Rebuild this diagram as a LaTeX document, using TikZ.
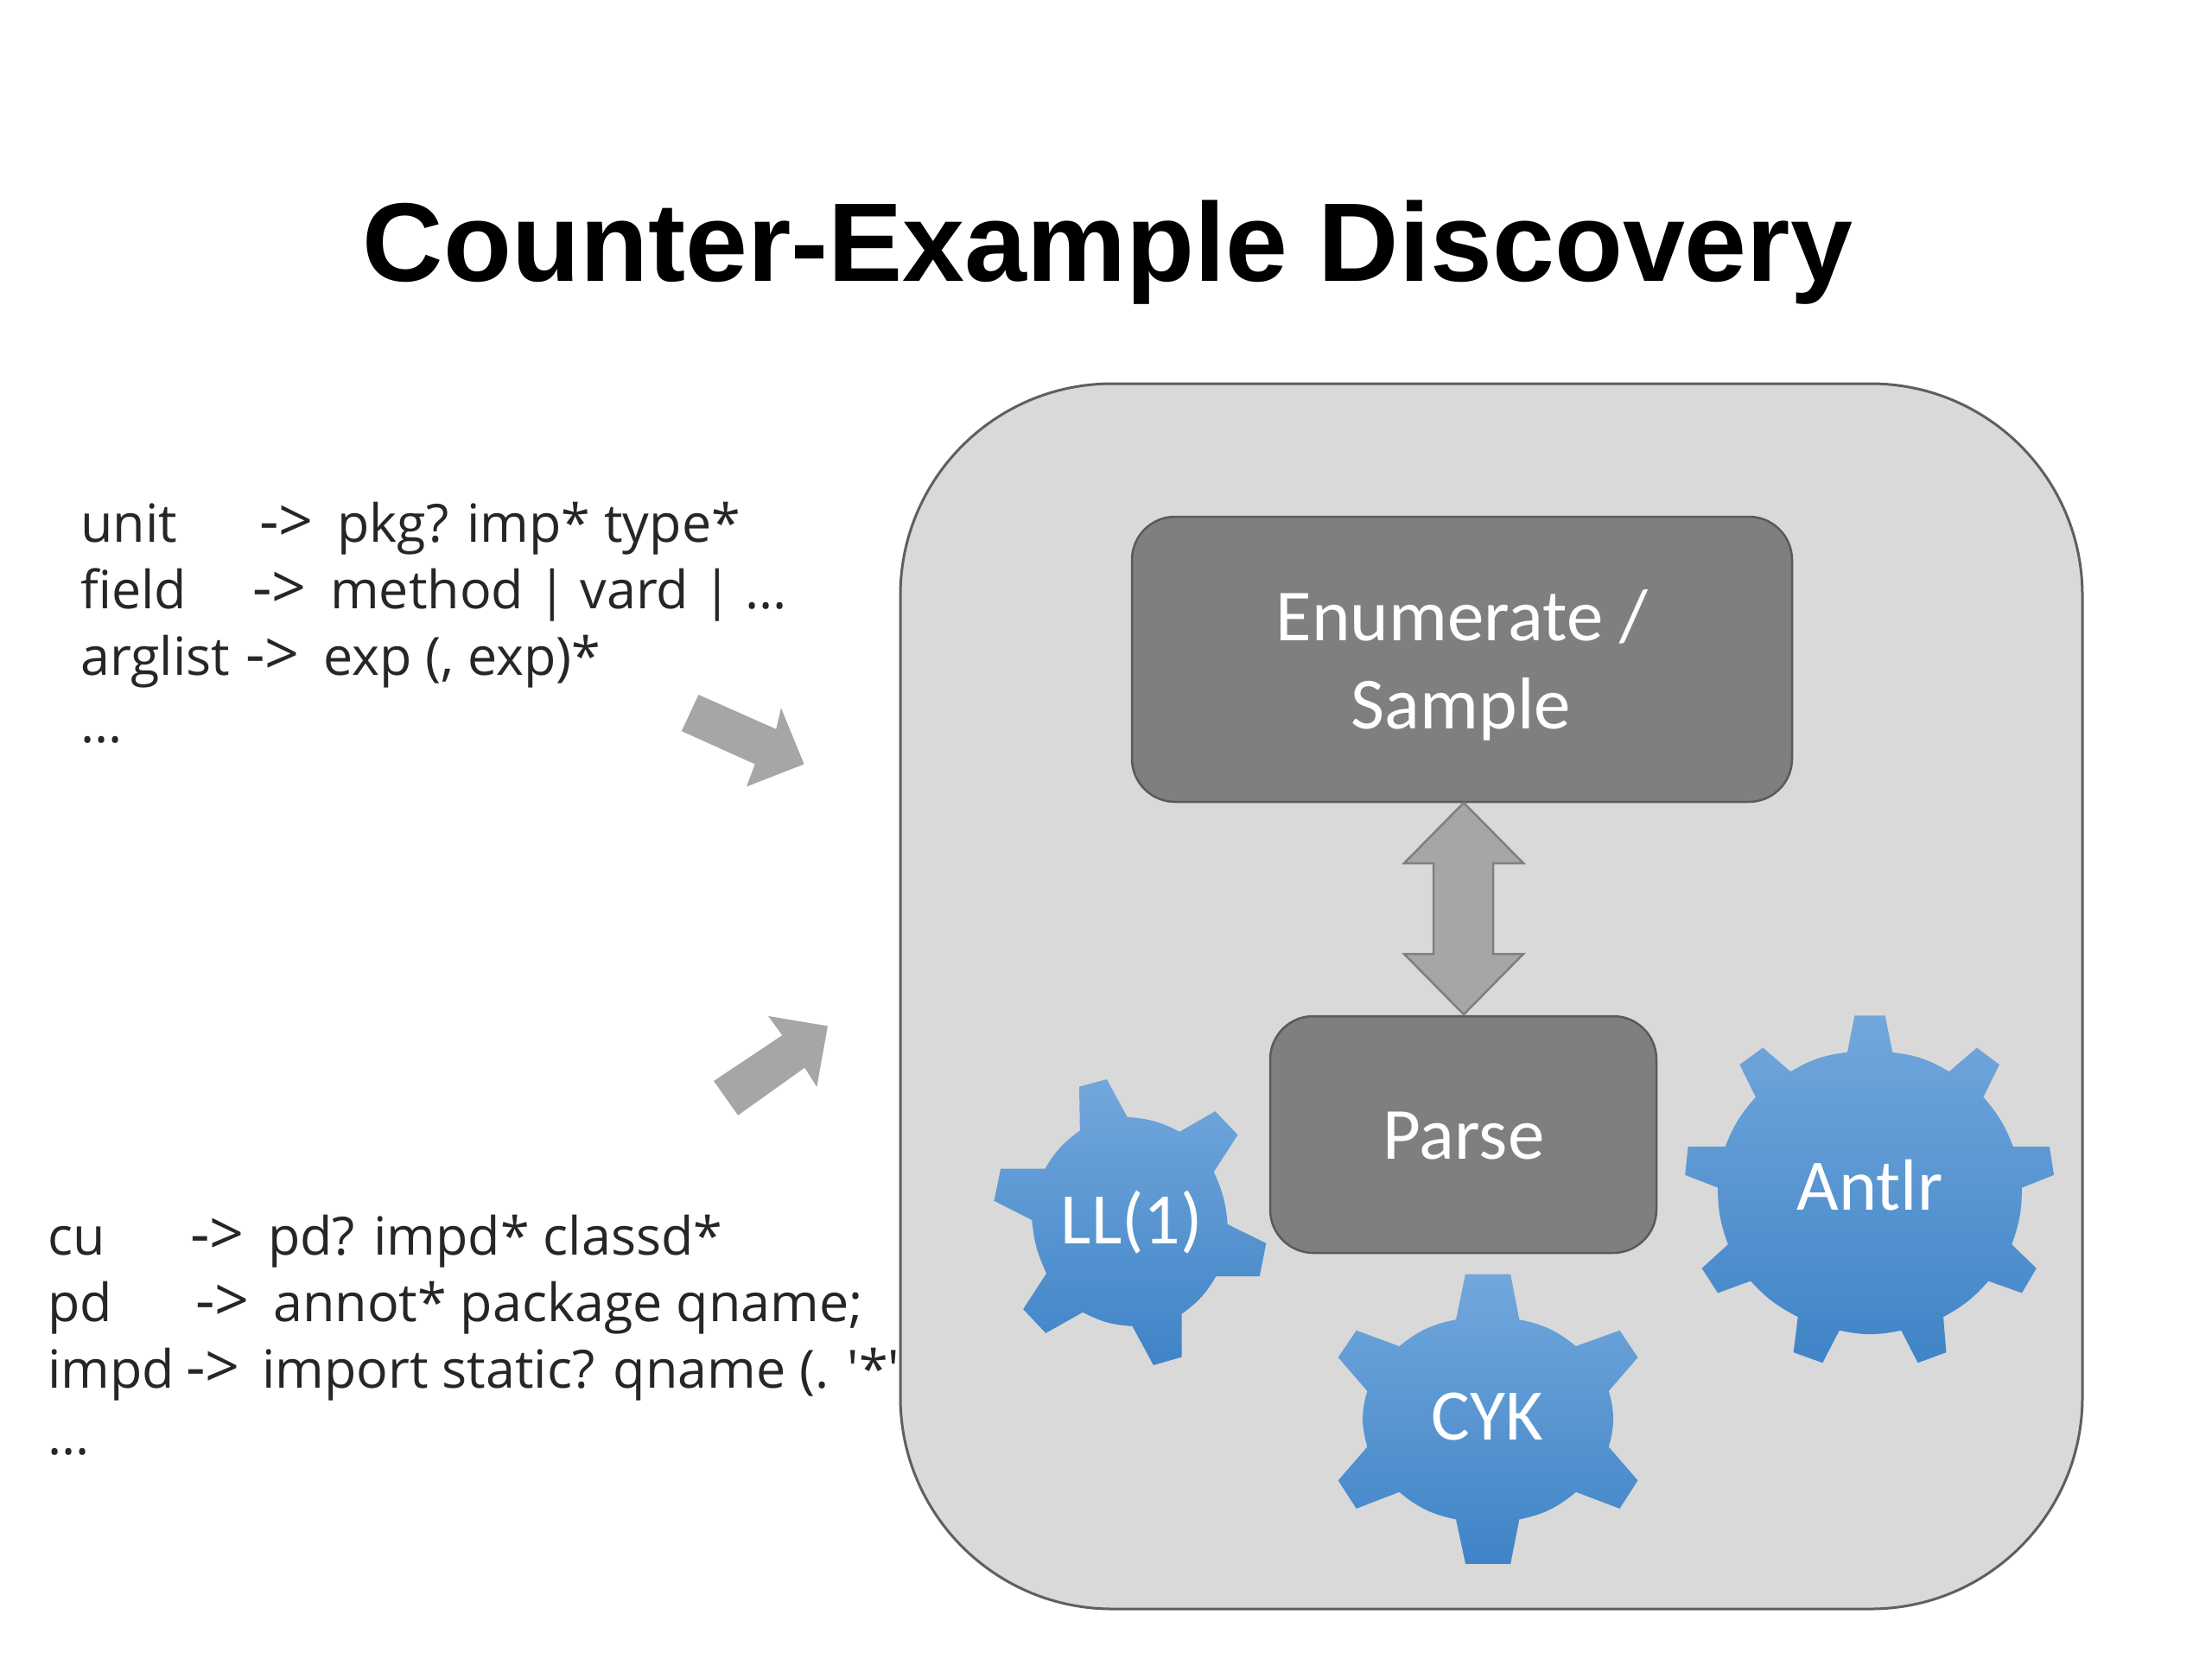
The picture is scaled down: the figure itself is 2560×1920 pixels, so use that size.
\documentclass[tikz,border=0pt]{standalone}
\usepackage{fontspec}
\setmainfont{Carlito}
\newfontfamily\titlefont{Liberation Sans}
\newfontfamily\gramfont{Open Sans}
\definecolor{outerfill}{HTML}{D9D9D9}
\definecolor{outerline}{HTML}{5F5F5F}
\definecolor{boxfill}{HTML}{7F7F7F}
\definecolor{boxline}{HTML}{5A5A5A}
\definecolor{arrowgrey}{HTML}{A6A6A6}
\definecolor{geartop}{HTML}{72A7DC}
\definecolor{gearbot}{HTML}{3F84C7}
\definecolor{gramtext}{HTML}{262626}
\newcommand{\gramline}[4]{\makebox[#1pt][l]{#2}\makebox[#3pt][l]{\fontsize{70}{77}\selectfont->}#4}
\tikzset{
  titletext/.style={font=\titlefont\bfseries\fontsize{129.3}{150}\selectfont,text=black,inner sep=0pt},
  gram/.style={font=\gramfont\fontsize{61}{77}\selectfont,text=gramtext,anchor=base west,inner sep=0pt},
  boxtext/.style={font=\fontsize{85}{98}\selectfont,text=white,inner sep=0pt},
  geartext/.style={font=\fontsize{84}{98}\selectfont,text=white,inner sep=0pt},
  graybox/.style={draw=boxline,line width=2.5pt,fill=boxfill,rounded corners=50pt},
  gearshape/.style={top color=geartop,bottom color=gearbot,draw=none},
  dblarrow/.style={fill=arrowgrey,draw=boxfill,line width=2.5pt,line join=miter},
}
\begin{document}
\begin{tikzpicture}[x=1pt,y=-1pt]
\useasboundingbox (0,0) rectangle (2560,1920);
\fill[white] (0,0) rectangle (2560,1920);

\node[titletext] (title) at (1282,292) {Counter-Example Discovery};

% grammar 1
\node[gram] (a1) at (93,627) {\gramline{207}{unit}{90}{pkg? imp* type*}};
\node[gram] (a2) at (93,704) {\gramline{199}{field}{90}{method | vard | ...}};
\node[gram] (a3) at (93,781) {\gramline{191}{arglist}{90}{exp (, exp)*}};
\node[gram] (a4) at (93,859) {...};
% grammar 2
\node[gram] (b1) at (55,1452) {\gramline{165}{cu}{90}{pd? impd* classd*}};
\node[gram] (b2) at (55,1529) {\gramline{171}{pd}{90}{annot* package qname;}};
\node[gram] (b3) at (55,1606) {\gramline{160}{impd}{88}{import static? qname (. '*'}};
\node[gram] (b4) at (55,1683) {...};

% outer panel (covers the end of the long line)
\draw[fill=outerfill,draw=outerline,line width=3pt,rounded corners=245pt]
  (1042,444) rectangle (2410,1862);

% block arrows
\begin{scope}[shift={(0,540)},x=0.7018pt,y=-0.7653pt]
  \fill[arrowgrey] (1152,345) -- (1280,397) -- (1288,365) -- (1326,450) -- (1231,484) -- (1245,450) -- (1124,400) -- cycle;
  \fill[arrowgrey] (1177,929) -- (1290,860) -- (1267,831) -- (1365,846) -- (1347,938) -- (1327,909) -- (1217,981) -- cycle;
\end{scope}

% boxes
\node[graybox,minimum width=764pt,minimum height=330pt] (enum) at (1692,763) {};
\node[boxtext] (enum1) at (1692,714) {Enumerate /};
\node[boxtext] (enum2) at (1691,821) {Sample};
\node[graybox,minimum width=447pt,minimum height=274pt] (parse) at (1693.5,1313) {};
\node[boxtext] (parselbl) at (1694,1315) {Parse};

% double arrow
\draw[dblarrow] (1694,929) -- (1763,999) -- (1728,999) -- (1728,1104) -- (1763,1104) -- (1694,1174)
  -- (1625,1104) -- (1659,1104) -- (1659,999) -- (1625,999) -- cycle;

% gears
\begin{scope}[shift={(1100,1150)},x=0.8418pt,y=-0.4464pt]
  \shade[gearshape] (708,727) -- (770,727) -- (782,845) to[bend left=14] (860,914) -- (920,873) -- (945,943) -- (905,1030)
    to[bend left=16] (905,1175) -- (945,1262) -- (920,1335) -- (860,1292) to[bend left=14] (782,1363)
    -- (770,1478) -- (708,1478) -- (695,1363) to[bend left=14] (617,1292) -- (558,1335) -- (533,1262) -- (573,1175)
    to[bend left=16] (573,1030) -- (533,943) -- (558,873) -- (617,914) to[bend left=14] (695,845) -- cycle;
  \shade[gearshape] (1243,57) -- (1285,57) -- (1295,152) to[bend left=12] (1373,202) -- (1411,140) -- (1442,184) -- (1420,268)
    to[bend left=10] (1461,397) -- (1511,397) -- (1517,470) -- (1473,503) to[bend left=10] (1459,650)
    -- (1493,712) -- (1473,776) -- (1427,745) to[bend left=10] (1365,838) -- (1369,930) -- (1330,957) -- (1307,873)
    to[bend left=12] (1222,873) -- (1199,957) -- (1159,930) -- (1165,838) to[bend left=10] (1100,745)
    -- (1055,776) -- (1033,712) -- (1069,650) to[bend left=10] (1055,503) -- (1010,470) -- (1014,397) -- (1065,397)
    to[bend left=10] (1107,268) -- (1085,184) -- (1117,140) -- (1155,202) to[bend left=12] (1233,152) -- cycle;
  \shade[gearshape] (177,241) -- (215,222) -- (243,320) to[bend left=12] (315,358) -- (364,305) -- (395,366) -- (362,462)
    to[bend left=10] (381,598) -- (434,647) -- (425,733) -- (365,733) to[bend left=12] (318,830) -- (318,942) -- (279,963)
    -- (250,862) to[bend left=12] (182,826) -- (131,880) -- (100,818) -- (132,725) to[bend left=10] (112,587)
    -- (60,537) -- (69,454) -- (130,454) to[bend left=12] (178,355) -- cycle;
\end{scope}
\node[geartext] (cyk) at (1721,1640) {CYK};
\node[geartext] (antlr) at (2164,1372) {Antlr};
\node[geartext] (ll) at (1310,1415) {LL(1)};
\end{tikzpicture}
\end{document}
